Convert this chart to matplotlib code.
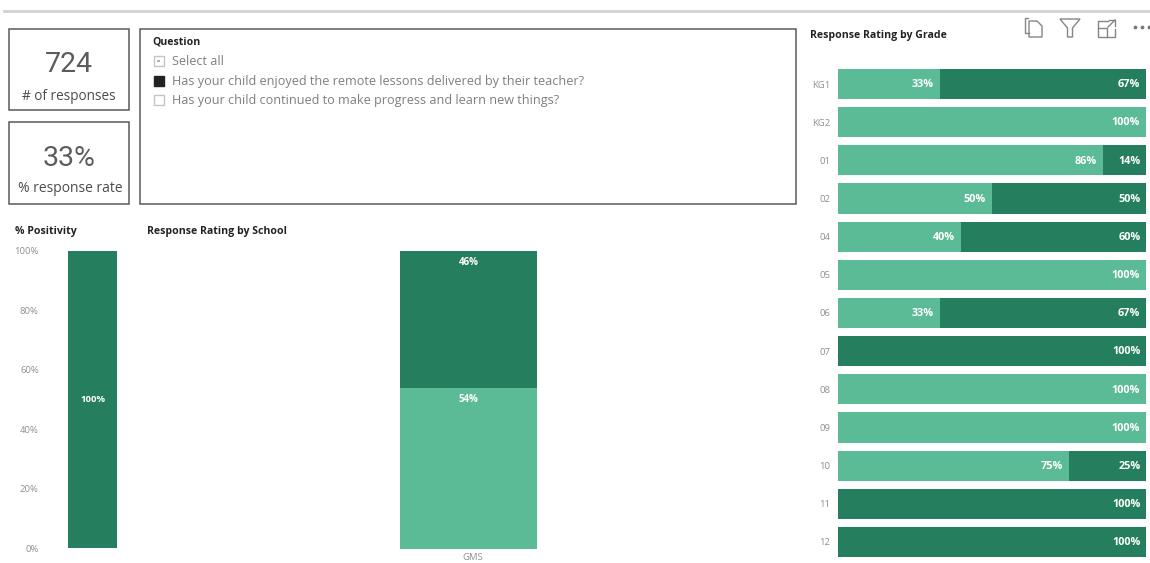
import matplotlib
matplotlib.use("Agg")
import matplotlib.pyplot as plt
from matplotlib.patches import Rectangle, Polygon

W, H = 1150, 563

LIGHT = "#5BBB97"
DARK = "#257F5F"
GREY = "#8f8f8f"

plt.rcParams["font.family"] = ["Open Sans", "DejaVu Sans"]

grades = ["KG1", "KG2", "01", "02", "04", "05", "06", "07", "08", "09", "10", "11", "12"]
grade_pos = [33, 100, 86, 50, 40, 100, 33, 0, 100, 100, 75, 0, 0]
grade_neg = [67, 0, 14, 50, 60, 0, 67, 100, 0, 0, 25, 100, 100]

school = ["GMS"]
school_light = [54]
school_dark = [46]

positivity = [100]
pct_ticks = [0, 20, 40, 60, 80, 100]

question_items = [
    "Select all",
    "Has your child enjoyed the remote lessons delivered by their teacher?",
    "Has your child continued to make progress and learn new things?",
]


def px_axes(fig, left, top, right, bottom):
    # axes placed with pixel edges, y measured from the top
    return fig.add_axes([left / W, 1 - bottom / H, (right - left) / W, (bottom - top) / H])


fig = plt.figure(figsize=(W / 100, H / 100), dpi=100, facecolor="white")

# page layer for cards, titles and icons
page = fig.add_axes([0, 0, 1, 1])
page.set_xlim(0, W)
page.set_ylim(H, 0)
page.axis("off")

page.plot([4, 1150], [10.5, 10.5], color="#d2d2d2", lw=2)

for x, y, w, h in [(8.5, 29, 120, 81), (8.5, 122, 120, 82), (140, 29, 656, 175)]:
    page.add_patch(Rectangle((x, y), w, h, fc="white", ec="#5a5a5a", lw=1.1))

page.text(68.5, 64, "724", fontsize=20.5, color="#5c5c5c", ha="center", va="center", family="Roboto")
page.text(69, 96.5, "# of responses", fontsize=9.8, color="#4c4c4c", ha="center", va="center")
page.text(69.5, 158, "33%", fontsize=20.5, color="#5c5c5c", ha="center", va="center", family="Roboto")
page.text(70, 188.5, "% response rate", fontsize=10, color="#4c4c4c", ha="center", va="center")

# slicer
page.text(152.5, 41.5, "Question", fontsize=7.6, color="#222222", weight="bold", ha="left", va="center")
for i, (label, y) in enumerate(zip(question_items, [61, 80.5, 100])):
    page.text(171.5, y + 0.8, label, fontsize=9.1, color="#7f7f7f", ha="left", va="center")
    filled = i == 1
    page.add_patch(Rectangle((153.5, y - 5), 10, 10, fc="#222222" if filled else "white",
                             ec="#222222" if filled else "#c4c4c4", lw=1))
page.add_patch(Rectangle((157.3, 59.8), 2.4, 2.4, fc="#b0b0b0", ec="none"))

title = dict(fontsize=7.6, color="#222222", weight="bold", ha="left", va="center")
page.text(15, 231.5, "% Positivity", **title)
page.text(147, 231.5, "Response Rating by School", **title)
page.text(810, 35.5, "Response Rating by Grade", **title)

# header icons
icon = dict(color="#858585", lw=1)
page.plot([1028, 1024.5, 1024.5, 1029], [17.5, 17.5, 33, 33], **icon)
page.add_patch(Polygon([(1029, 21), (1037, 21), (1042, 26), (1042, 37), (1029, 37)], closed=True,
                       fc="white", ec="#858585", lw=1))
page.add_patch(Polygon([(1060, 19), (1080, 19), (1072.5, 28), (1072.5, 37), (1067.5, 37), (1067.5, 28)],
                       closed=True, fc="white", ec="#858585", lw=1))
page.plot([1108, 1098, 1098, 1115, 1115], [21, 21, 37, 37, 29], **icon)
page.plot([1098, 1107, 1107], [28, 28, 37], **icon)
page.plot([1109, 1115, 1115], [20, 20, 26], **icon)
page.plot([1108, 1115], [27, 20], **icon)
page.plot([1135, 1142, 1149], [27, 27, 27], ls="none", marker="o", ms=1.7, color="#777777")

# % positivity column
ax1 = px_axes(fig, 43, 251, 140, 548)
ax1.bar([0], positivity, width=0.5, color=DARK)
ax1.set_xlim(-0.51, 0.49)
ax1.set_ylim(0, 100)
ax1.set_xticks([])
ax1.set_yticks(pct_ticks)
ax1.set_yticklabels([f"{t}%" for t in pct_ticks], fontsize=6.8, color=GREY)
ax1.tick_params(axis="y", length=0, pad=3)
ax1.text(0, positivity[0] / 2, f"{positivity[0]}%", fontsize=6.8, color="white", weight="bold",
         ha="center", va="center")

# response rating by school
ax2 = px_axes(fig, 160, 251, 785, 549)
ax2.bar(school, school_light, width=0.22, color=LIGHT)
ax2.bar(school, school_dark, width=0.22, bottom=school_light, color=DARK)
ax2.set_xlim(-0.4936, 0.5064)
ax2.set_ylim(0, 100)
ax2.set_yticks([])
ax2.set_xticks([0.0064])
ax2.set_xticklabels(school, fontsize=6.8, color=GREY)
ax2.tick_params(axis="x", length=0, pad=3)
ax2.text(0, school_light[0] - 4, f"{school_light[0]}%", fontsize=7, color="white", weight="bold",
         ha="center", va="center")
ax2.text(0, 96, f"{school_dark[0]}%", fontsize=7, color="white", weight="bold",
         ha="center", va="center")

# response rating by grade
ax3 = px_axes(fig, 838, 65, 1146, 561)
rows = list(range(len(grades)))
ax3.barh(rows, grade_pos, height=0.79, color=LIGHT)
ax3.barh(rows, grade_neg, height=0.79, left=grade_pos, color=DARK)
ax3.set_xlim(0, 100)
ax3.set_ylim(len(grades) - 0.5, -0.5)
ax3.set_xticks([])
ax3.set_yticks(rows)
ax3.set_yticklabels(grades, fontsize=6.8, color=GREY)
ax3.tick_params(axis="y", length=0, pad=5.5)
for r, p, n in zip(rows, grade_pos, grade_neg):
    if p:
        ax3.text(p - 2, r + 0.02, f"{p}%", fontsize=7.8, color="white", weight="bold", ha="right", va="center")
    if n:
        ax3.text(98.2, r + 0.02, f"{n}%", fontsize=7.8, color="white", weight="bold", ha="right", va="center")

for ax in (ax1, ax2, ax3):
    ax.patch.set_alpha(0)
    for s in ax.spines.values():
        s.set_visible(False)

fig.savefig("out.png", dpi=100)
